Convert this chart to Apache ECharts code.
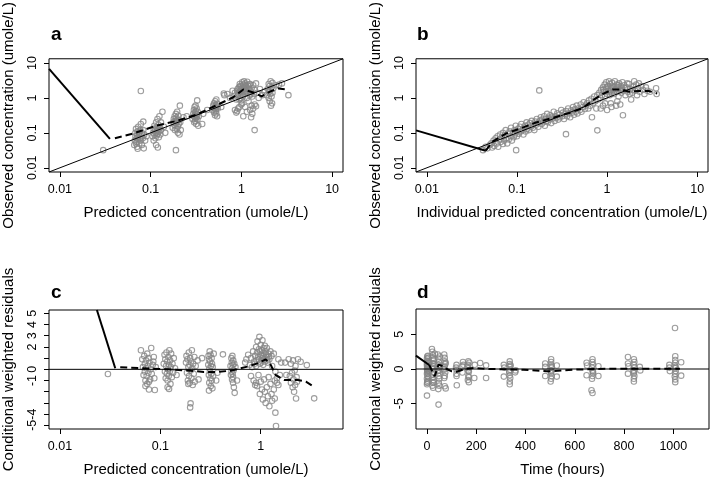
<!DOCTYPE html>
<html>
<head>
<meta charset="UTF-8">
<title>GOF plots</title>
<script src="https://cdn.jsdelivr.net/npm/echarts@6/dist/echarts.min.js"></script>
<style>
  html, body { margin: 0; padding: 0; background: #fff; }
  #app { width: 710px; height: 480px; }
</style>
</head>
<body>
<div id="app"></div>
<script>
// ---- data (concentrations in umole/L, time in hours) ----
var logTicks = [0.01, 0.1, 1, 10];

// panel a: predicted vs observed
var aPts = [
  [0.030,0.032],[0.078,1.58],
  [0.066,0.045],[0.067,0.06],[0.068,0.08],[0.068,0.1],[0.069,0.13],[0.07,0.07],[0.07,0.055],[0.071,0.04],[0.071,0.09],[0.072,0.11],
  [0.072,0.075],[0.073,0.065],[0.073,0.15],[0.074,0.085],[0.075,0.05],[0.075,0.095],[0.076,0.07],[0.077,0.12],[0.078,0.06],[0.078,0.18],
  [0.079,0.08],[0.08,0.045],[0.08,0.1],[0.082,0.07],[0.084,0.036],[0.085,0.09],[0.087,0.06],[0.09,0.08],[0.072,0.035],[0.069,0.05],[0.083,0.12],[0.083,0.21],
  [0.105,0.08],[0.107,0.1],[0.108,0.13],[0.11,0.09],[0.11,0.16],[0.112,0.12],[0.113,0.07],[0.114,0.1],[0.115,0.2],[0.116,0.14],[0.117,0.085],
  [0.118,0.11],[0.119,0.25],[0.12,0.095],[0.12,0.13],[0.122,0.17],[0.123,0.075],[0.124,0.11],[0.125,0.3],[0.127,0.14],[0.128,0.09],[0.13,0.12],
  [0.115,0.045],[0.12,0.038],[0.135,0.4],[0.14,0.15],[0.145,0.1],[0.108,0.06],[0.13,0.2],
  [0.175,0.14],[0.178,0.2],[0.18,0.25],[0.182,0.17],[0.184,0.3],[0.185,0.12],[0.187,0.22],[0.188,0.16],[0.19,0.35],[0.19,0.19],[0.192,0.27],
  [0.194,0.13],[0.195,0.21],[0.196,0.4],[0.198,0.24],[0.2,0.15],[0.2,0.1],[0.202,0.31],[0.204,0.18],[0.206,0.23],[0.208,0.09],[0.21,0.6],
  [0.212,0.2],[0.215,0.12],[0.19,0.032],[0.23,0.28],[0.25,0.3],
  [0.29,0.25],[0.295,0.35],[0.3,0.3],[0.3,0.45],[0.302,0.2],[0.305,0.55],[0.307,0.28],[0.308,0.38],[0.31,0.22],[0.312,0.32],[0.313,0.6],
  [0.315,0.26],[0.316,0.42],[0.318,0.18],[0.32,0.34],[0.322,0.5],[0.324,0.29],[0.326,0.85],[0.328,0.24],[0.33,0.4],[0.335,0.16],[0.34,0.3],
  [0.37,0.18],[0.38,0.35],[0.42,0.45],
  [0.48,0.45],[0.49,0.6],[0.5,0.38],[0.5,0.7],[0.505,0.5],[0.51,0.55],[0.512,0.32],[0.515,0.8],[0.52,0.42],[0.522,0.62],[0.525,0.48],
  [0.528,0.36],[0.53,0.9],[0.535,0.55],[0.54,0.3],[0.545,0.68],[0.55,0.5],[0.65,1.2],[0.6,0.55],[0.64,1.34],
  [0.82,1.1],[0.85,1.4],[0.88,0.9],[0.9,1.6],[0.92,1.2],[0.94,2.0],[0.95,1.5],[0.96,2.5],[0.97,1.0],[0.98,1.8],[1.0,2.2],[1.0,1.3],
  [1.02,2.8],[1.03,1.7],[1.04,1.1],[1.05,2.4],[1.06,1.5],[1.07,3.0],[1.08,1.9],[1.1,1.3],[1.1,2.6],[1.12,1.6],[1.13,2.1],[1.15,1.0],
  [1.16,2.9],[1.18,1.4],[1.2,2.2],[1.22,1.7],[1.24,1.2],[1.25,2.5],[1.28,1.5],[1.3,1.9],[1.32,1.1],[1.35,2.3],[1.38,1.3],[1.4,1.7],
  [1.45,2.6],[1.5,1.4],[1.55,1.0],[0.95,0.9],[1.0,0.85],[0.7,1.3],[0.75,1.0],[0.8,1.6],
  [0.93,1.35],[0.99,1.55],[1.01,1.9],[1.04,2.05],[1.09,1.75],[1.11,2.35],[1.14,1.45],[1.19,1.85],[1.23,2.4],[1.27,1.3],[0.91,1.8],[0.97,2.2],
  [0.85,0.45],[0.88,0.38],[0.9,0.42],[0.92,0.5],[1.0,0.65],[1.02,0.7],[1.05,0.3],[1.1,0.55],[1.15,0.4],[1.2,0.8],[1.25,0.45],
  [1.3,0.6],[1.32,0.35],[1.35,0.5],[1.4,0.65],[1.4,0.12],[1.28,0.28],[1.45,0.58],[0.95,0.55],
  [1.9,1.2],[1.95,1.8],[2.0,2.5],[2.0,1.0],[2.02,1.5],[2.05,0.8],[2.05,2.2],[2.08,1.3],[2.1,3.0],[2.1,1.7],[2.12,0.6],[2.15,2.0],
  [2.15,1.1],[2.18,0.7],[2.2,1.4],[2.2,2.7],[2.25,1.9],[1.8,1.5],[1.7,1.2],[2.4,2.3],[2.6,2.4],[2.8,2.6],[3.3,1.2],[1.6,1.8]
];
var aSolid = [[0.0076,6.8],[0.0356,0.0676]];
var aDash = [[0.0404,0.0702],[0.0643,0.0957],[0.1164,0.1614],[0.1936,0.2203],[0.3214,0.3327],[0.5346,0.6194],[0.8147,1.045],
  [1.05,1.75],[1.352,1.426],[1.675,1.112],[2.065,1.517],[2.553,1.862],[3.16,1.75]];

// panel b: individual predicted vs observed
var bPts = [
  [0.042,0.032],[0.045,0.04],[0.047,0.036],[0.05,0.045],[0.052,0.05],[0.053,0.038],[0.055,0.06],[0.056,0.042],[0.058,0.07],[0.06,0.05],
  [0.061,0.08],[0.062,0.04],[0.064,0.065],[0.065,0.09],[0.066,0.055],[0.068,0.075],[0.07,0.1],[0.07,0.048],[0.072,0.06],[0.073,0.085],
  [0.075,0.12],[0.076,0.07],[0.078,0.05],[0.08,0.095],[0.081,0.065],[0.083,0.11],[0.085,0.08],[0.086,0.14],[0.088,0.06],[0.09,0.1],
  [0.092,0.075],[0.094,0.12],[0.095,0.09],[0.097,0.16],[0.098,0.032],[0.1,0.11],[0.1,0.08],
  [0.103,0.13],[0.105,0.095],[0.108,0.15],[0.11,0.11],[0.112,0.18],[0.115,0.12],[0.118,0.09],[0.12,0.14],[0.123,0.16],[0.125,0.11],
  [0.128,0.2],[0.13,0.13],[0.133,0.17],[0.136,0.12],[0.14,0.19],[0.143,0.15],[0.146,0.22],[0.15,0.14],[0.153,0.18],[0.156,0.12],
  [0.16,0.21],[0.163,0.17],[0.166,0.25],[0.17,0.19],[0.173,0.15],[0.177,1.64],[0.18,0.22],[0.184,0.28],[0.188,0.18],[0.19,0.24],
  [0.195,0.2],[0.2,0.3],[0.204,0.16],[0.208,0.25],[0.212,0.22],[0.216,0.35],[0.22,0.2],[0.225,0.27],[0.23,0.24],[0.235,0.32],
  [0.24,0.19],[0.245,0.29],[0.25,0.26],[0.256,0.4],[0.262,0.22],[0.268,0.3],[0.275,0.27],[0.28,0.36],[0.288,0.24],[0.295,0.33],
  [0.3,0.28],[0.31,0.45],[0.318,0.3],[0.325,0.38],[0.333,0.25],[0.34,0.34],[0.35,0.092],[0.35,0.42],[0.36,0.3],[0.37,0.5],[0.38,0.36],
  [0.39,0.28],[0.4,0.44],[0.41,0.38],[0.42,0.55],[0.43,0.33],[0.44,0.47],[0.45,0.4],[0.46,0.6],[0.47,0.36],[0.48,0.5],[0.5,0.45],
  [0.51,0.65],[0.52,0.4],[0.54,0.55],[0.55,0.75],[0.57,0.48],[0.58,0.6],[0.6,0.7],[0.62,0.5],[0.63,0.85],[0.65,0.6],[0.67,0.95],
  [0.68,0.28],[0.7,0.7],[0.72,1.1],[0.74,0.8],[0.76,0.5],[0.78,0.118],[0.78,1.2],[0.8,0.9],
  [0.82,1.4],[0.84,1.0],[0.86,1.7],[0.88,1.2],[0.9,2.0],[0.9,0.6],[0.92,1.5],[0.94,2.4],[0.95,1.1],[0.97,1.8],[0.98,2.8],[1.0,1.3],
  [1.0,0.45],[1.02,2.2],[1.04,1.6],[1.05,3.0],[1.07,1.2],[1.08,2.5],[1.1,1.9],[1.12,0.55],[1.12,1.4],[1.14,2.7],[1.16,1.7],[1.18,2.1],
  [1.2,1.3],[1.22,3.0],[1.24,1.8],[1.26,0.6],[1.28,2.4],[1.3,1.5],[1.32,2.0],[1.34,1.1],[1.36,2.6],[1.38,1.7],[1.4,0.65],[1.42,2.2],
  [1.44,1.4],[1.46,1.9],[1.48,2.8],[1.5,0.32],[1.5,1.6],[1.55,2.3],[1.6,1.2],[1.65,2.0],[1.7,1.5],[1.75,2.5],[1.8,1.8],[1.85,0.9],
  [1.9,1.4],[1.95,2.1],[2.0,3.0],[2.05,1.6],[2.1,2.4],[2.15,1.2],[2.2,1.9],[2.3,1.5],[2.4,2.2],[2.5,1.7],[2.6,1.3],[2.7,2.0],
  [2.8,1.6],[3.0,1.5],[3.5,1.9],[3.55,1.3],[1.1,0.7],[0.95,0.7],[1.3,0.8],[0.85,0.5],
  [1.13,2.1],[1.21,1.6],[1.33,2.3],[1.43,1.7],[1.58,1.9],[1.68,2.6],[1.78,1.3],[1.92,1.7],[2.25,2.6],[0.99,2.0],[0.91,1.7],[1.06,1.5]
];
var bSolid = [[0.0076,0.118],[0.045,0.0306]];
var bDash = [[0.045,0.031],[0.054,0.057],[0.076,0.096],[0.107,0.131],[0.163,0.198],[0.249,0.27],[0.38,0.37],[0.534,0.505],
  [0.69,0.85],[0.89,1.28],[1.15,1.75],[1.42,1.75],[1.75,1.51],[2.26,1.58],[2.91,1.58],[3.6,1.34]];

// panel c: predicted vs CWRES
var cPts = [
  [0.03,-0.42],
  [0.064,1.7],[0.066,0.9],[0.067,0.2],[0.068,-0.5],[0.069,1.2],[0.07,0.5],[0.07,-0.2],[0.071,-1.0],[0.072,0.8],[0.072,0.1],[0.073,-0.6],
  [0.074,1.4],[0.074,-1.3],[0.075,0.3],[0.076,-0.3],[0.076,1.0],[0.077,-1.8],[0.078,0.6],[0.079,-0.9],[0.08,0.0],[0.081,1.9],[0.082,-0.4],
  [0.084,0.4],[0.086,1.1],[0.087,-0.8],[0.088,-1.85],[0.09,0.2],[0.085,0.7],[0.071,-1.5],[0.077,-1.1],
  [0.108,0.5],[0.11,1.3],[0.111,-0.2],[0.112,0.9],[0.113,-0.8],[0.114,0.3],[0.115,1.5],[0.116,-0.4],[0.117,0.7],[0.118,-1.0],[0.119,0.0],
  [0.12,1.1],[0.121,-0.6],[0.122,0.4],[0.123,1.7],[0.124,-0.2],[0.125,0.8],[0.126,-1.3],[0.127,0.2],[0.128,1.4],[0.13,-0.7],[0.132,0.5],
  [0.134,-0.3],[0.136,1.0],[0.14,0.1],[0.118,-1.6],[0.122,-1.75],[0.145,-0.5],
  [0.18,0.6],[0.182,1.2],[0.184,-0.3],[0.186,0.9],[0.188,-1.0],[0.19,0.2],[0.192,1.5],[0.193,-0.6],[0.195,0.4],[0.196,-1.2],[0.198,1.0],
  [0.2,-0.1],[0.202,0.7],[0.204,-0.8],[0.206,1.7],[0.208,0.1],[0.21,-1.4],[0.212,0.5],[0.215,-0.4],[0.218,1.1],[0.22,-1.1],[0.225,0.3],
  [0.235,0.8],[0.24,-0.9],[0.2,-3.04],[0.198,-3.4],[0.26,1.0],[0.19,-1.3],
  [0.3,0.4],[0.302,1.2],[0.304,-0.5],[0.305,0.9],[0.307,-1.2],[0.308,0.1],[0.31,1.6],[0.312,-0.2],[0.313,0.7],[0.315,-0.8],[0.316,1.3],
  [0.318,-1.5],[0.32,0.3],[0.322,-0.4],[0.324,1.0],[0.325,-1.0],[0.327,0.5],[0.33,-1.7],[0.332,0.2],[0.335,-0.6],[0.34,1.4],[0.36,-1.0],
  [0.37,-0.3],[0.42,1.34],[0.305,-1.9],
  [0.5,0.3],[0.505,-0.5],[0.51,1.0],[0.512,-0.2],[0.515,0.6],[0.518,-0.9],[0.52,0.1],[0.522,1.2],[0.525,-0.4],[0.528,0.4],[0.53,-1.2],
  [0.532,0.8],[0.535,-0.1],[0.54,-1.6],[0.545,0.5],[0.55,-2.1],[0.56,0.2],[0.58,-1.0],[0.53,-0.7],
  [0.7,0.6],[0.72,0.9],[0.75,1.3],[0.78,0.4],[0.8,1.0],[0.82,0.2],[0.84,1.6],[0.86,0.7],[0.88,1.2],[0.9,2.0],[0.9,0.3],[0.92,1.5],
  [0.93,2.5],[0.95,0.9],[0.96,1.8],[0.97,2.9],[0.98,0.5],[1.0,1.3],[1.0,2.2],[1.02,0.8],[1.03,1.7],[1.04,2.6],[1.05,1.0],[1.06,0.4],
  [1.07,1.9],[1.08,1.4],[1.1,2.1],[1.1,0.7],[1.12,1.6],[1.14,1.1],[1.15,1.9],[1.17,0.6],[1.19,1.4],[1.22,0.9],[1.25,1.6],[1.28,1.2],[1.3,0.3],
  [0.94,1.1],[0.99,1.6],[1.01,0.6],[1.04,1.2],[1.09,0.9],[1.13,1.3],[1.16,0.8],[1.2,1.1],[0.87,0.5],[0.91,0.8],
  [0.8,-0.6],[0.85,-1.0],[0.88,-1.4],[0.9,-1.2],[0.92,-1.5],[0.95,-0.5],[0.98,-2.2],[1.0,-1.1],[1.03,-1.8],[1.05,-2.7],[1.08,-0.9],
  [1.1,-2.0],[1.12,-3.0],[1.15,-1.6],[1.18,-2.4],[1.2,-0.7],[1.22,-3.3],[1.25,-1.3],[1.28,-2.2],[1.3,-2.8],[1.35,-1.8],[1.38,-2.6],
  [1.4,-3.87],[1.42,-5.06],[1.38,-1.0],[1.35,1.4],[1.4,-0.2],[1.45,-0.8],[1.5,0.9],[1.55,-0.5],[1.6,0.6],[1.45,-1.2],[1.5,-1.4],
  [1.9,0.9],[1.95,-0.6],[2.0,0.5],[2.0,-1.2],[2.05,-0.3],[2.08,-1.6],[2.1,0.8],[2.12,-0.9],[2.15,-2.0],[2.18,-0.1],[2.2,-1.4],[2.22,0.3],
  [2.25,-2.6],[2.28,-0.7],[2.3,-1.1],[2.35,0.9],[1.8,-0.5],[1.75,0.6],[2.5,0.68],[2.88,0.38],[3.41,-2.59]
];
var cSolid = [[0.0233,5.3],[0.0355,0.09]];
var cDash = [[0.0398,0.18],[0.068,0.09],[0.117,0.0],[0.2,-0.12],[0.271,-0.24],[0.369,-0.24],[0.5,-0.12],[0.736,0.24],[0.926,0.53],
  [1.12,0.89],[1.26,0.39],[1.41,-0.51],[1.71,-0.95],[2.33,-0.95],[2.82,-1.1],[3.29,-1.49]];

// panel d: time vs CWRES
var dPts = [
  [0,-3.84],[0,-2.2],[1,-1.9],[0,-1.4],[2,-1.0],[0,-0.7],[1,-0.4],[3,-0.2],[0,0.0],[2,0.2],[4,0.4],[1,0.6],[0,0.8],[3,1.0],[2,1.2],
  [0,1.5],[1,1.8],[4,-0.6],[6,0.3],[6,-1.2],[8,0.9],[8,-0.3],[5,1.6],[3,-1.7],[0,0.5],[2,-0.1],[4,1.9],[1,-2.0],
  [20,2.89],[22,2.5],[24,2.0],[24,1.6],[26,1.2],[23,0.8],[25,0.4],[24,0.0],[26,-0.4],[22,-0.8],[24,-1.2],[26,-1.6],[24,-2.0],[22,-2.4],
  [25,-2.7],[28,1.4],[30,-0.6],[20,0.2],[28,-1.9],[30,0.7],[32,2.2],
  [44,2.1],[46,1.5],[48,1.0],[47,0.6],[48,0.2],[50,-0.2],[46,-0.6],[48,-1.0],[50,-1.4],[48,-2.0],[46,-2.9],[47,-5.14],[52,1.8],[52,0.4],
  [44,-0.3],[50,-2.4],
  [70,2.1],[72,1.6],[72,1.1],[74,0.7],[72,0.3],[70,-0.1],[74,-0.5],[72,-1.0],[70,-1.3],[72,-2.5],[76,-2.8],[76,0.9],[68,0.0],
  [120,0.6],[120,-0.1],[120,-0.7],[120,-1.0],[121,-2.35],[118,0.2],
  [144,0.4],[146,1.0],[144,-0.5],[148,0.6],[168,1.1],[166,0.6],[168,0.1],[170,-0.4],[168,-1.0],[166,-1.6],[170,-1.9],[172,0.9],
  [164,0.3],[168,-0.2],[170,-1.2],
  [192,-1.29],[216,0.87],[240,0.53],[240,-1.29],[194,0.6],
  [312,0.6],[312,-1.1],[314,0.2],[336,1.1],[336,0.7],[336,0.3],[338,-0.1],[334,-0.5],[336,-0.9],[338,-1.3],[336,-1.8],[336,-2.2],
  [340,0.5],[358,-0.48],[360,-0.2],[334,-0.3],
  [480,0.8],[480,-1.0],[480,0.3],[504,1.4],[504,1.0],[504,0.6],[506,0.2],[502,-0.2],[504,-0.6],[506,-1.0],[504,-1.4],[502,-1.8],
  [506,0.4],[527,0.5],[527,-1.1],[504,-0.4],
  [648,0.9],[650,0.5],[648,-0.9],[672,1.4],[672,1.0],[674,0.6],[670,0.2],[672,-0.2],[674,-0.6],[672,-1.0],[670,-1.4],[668,-3.07],
  [672,-3.46],[696,0.4],[696,-1.0],[674,-0.4],
  [816,1.74],[816,0.8],[816,-0.67],[818,0.4],[840,1.4],[842,1.0],[840,0.6],[842,0.2],[838,-0.2],[840,-0.6],[842,-1.0],[840,-1.4],
  [840,-1.8],[864,0.3],[866,-0.2],[840,-0.4],
  [984,0.6],[984,0.2],[986,-0.3],[1007,5.92],[1008,1.83],[1008,1.3],[1008,0.9],[1006,0.5],[1008,0.1],[1010,-0.3],[1008,-0.7],
  [1006,-1.1],[1008,-1.5],[1008,-1.9],[1032,0.97],[1032,-0.96],[1010,0.3]
];
var dSolid = [[-45,1.93],[9,0.58]];
var dDash = [[9,0.58],[31,-1.05],[47,0.63],[67,0.38],[80,0.0],[101,-0.34],[120,-0.4],[155,0],[189,0.14],[257,0],[392,-0.1],
  [487,-0.34],[595,-0.1],[730,0.05],[865,0.05],[1027,0.05]];

var cTicks = [-5,-4,-3,-2,-1,0,1,2,3,4,5];
var cLabels = [5,4,3,2,0,-1,-4,-5];
var dXTicks = [0,200,400,600,800,1000];
var dYTicks = [-5,0,5];

// ---- helpers ----
var FONT = 'Liberation Sans';
var lg = function (v) { return Math.log10(v); };
function logXY(pts) { return pts.map(function (p) { return [lg(p[0]), lg(p[1])]; }); }
function logX(pts) { return pts.map(function (p) { return [lg(p[0]), p[1]]; }); }
function logFmt(v) {
    var i = logTicks.map(lg).findIndex(function (t) { return Math.abs(t - v) < 1e-6; });
    return i >= 0 ? String(logTicks[i]) : '';
}
function plainFmt(v) { return String(v); }

var LMIN = -2.12, LMAX = 1.12;
var grey = '#858585';

function xAx(grid, min, max, ticks, fmt, name) {
    return {
        gridIndex: grid, type: 'value', min: min, max: max,
        name: name, nameLocation: 'middle', nameGap: 33,
        nameTextStyle: { fontFamily: FONT, fontSize: 15, color: '#000' },
        axisLine: { show: false, onZero: false },
        axisTick: { show: true, length: 5, inside: false, customValues: ticks, lineStyle: { color: '#000' } },
        axisLabel: { customValues: ticks, formatter: fmt, margin: 11, fontFamily: FONT, fontSize: 12.5, color: '#000' },
        splitLine: { show: false }
    };
}
function yAx(grid, min, max, ticks, labels, fmt, name) {
    return {
        gridIndex: grid, type: 'value', min: min, max: max,
        name: name, nameLocation: 'middle', nameGap: 33, nameRotate: 90,
        nameTextStyle: { fontFamily: FONT, fontSize: 15, color: '#000' },
        axisLine: { show: false, onZero: false },
        axisTick: { show: true, length: 5, inside: false, customValues: ticks, lineStyle: { color: '#000' } },
        axisLabel: { customValues: labels, formatter: fmt, rotate: 90, margin: 10, fontFamily: FONT, fontSize: 12.5, color: '#000' },
        splitLine: { show: false }
    };
}
function pts(i, data) {
    return {
        type: 'scatter', xAxisIndex: i, yAxisIndex: i, data: data, symbol: 'circle', symbolSize: 5.5,
        itemStyle: { color: 'rgba(0,0,0,0)', borderColor: grey, borderWidth: 1.1 }, silent: true
    };
}
function line(i, data, w, dash) {
    return {
        type: 'line', xAxisIndex: i, yAxisIndex: i, data: data, symbol: 'none', silent: true,
        lineStyle: { color: '#000', width: w, type: dash ? [7, 4] : 'solid' }, z: 3
    };
}
function zeroLine(i, xmin, xmax) {
    return line(i, [[xmin, 0], [xmax, 0]], 1, false);
}

var myChart = echarts.init(document.getElementById('app'));
var logTickVals = logTicks.map(lg);

var option = {
    animation: false,
    backgroundColor: '#fff',
    title: [
        { text: 'a', left: 51, top: 25 },
        { text: 'b', left: 417, top: 25 },
        { text: 'c', left: 51, top: 283 },
        { text: 'd', left: 417, top: 283 }
    ].map(function (t) {
        t.padding = 0;
        t.textStyle = { fontFamily: FONT, fontSize: 19, fontWeight: 'bold', color: '#000' };
        return t;
    }),
    grid: [
        { left: 49, top: 52, width: 294, height: 120 },
        { left: 416, top: 52, width: 292, height: 120 },
        { left: 49, top: 310, width: 294, height: 119 },
        { left: 416, top: 309, width: 293, height: 120 }
    ].map(function (g) {
        g.show = true; g.borderColor = '#000'; g.borderWidth = 1; g.containLabel = false;
        return g;
    }),
    xAxis: [
        xAx(0, LMIN, LMAX, logTickVals, logFmt, 'Predicted concentration (umole/L)'),
        xAx(1, LMIN, LMAX, logTickVals, logFmt, 'Individual predicted concentration (umole/L)'),
        xAx(2, -2.11, 0.82, logTickVals.slice(0, 3), logFmt, 'Predicted concentration (umole/L)'),
        xAx(3, -44.6, 1145, dXTicks, plainFmt, 'Time (hours)')
    ],
    yAxis: [
        yAx(0, LMIN, LMAX, logTickVals, logTickVals, logFmt, 'Observed concentration (umole/L)'),
        yAx(1, LMIN, LMAX, logTickVals, logTickVals, logFmt, 'Observed concentration (umole/L)'),
        yAx(2, -5.33, 5.3, cTicks, cLabels, plainFmt, 'Conditional weighted residuals'),
        yAx(3, -8.66, 8.66, dYTicks, dYTicks, plainFmt, 'Conditional weighted residuals')
    ],
    series: [
        line(0, [[LMIN, LMIN], [LMAX, LMAX]], 1, false),
        pts(0, logXY(aPts)),
        line(0, logXY(aSolid), 2, false),
        line(0, logXY(aDash), 2, true),

        line(1, [[LMIN, LMIN], [LMAX, LMAX]], 1, false),
        pts(1, logXY(bPts)),
        line(1, logXY(bSolid), 2, false),
        line(1, logXY(bDash), 2, true),

        zeroLine(2, -2.11, 0.82),
        pts(2, logX(cPts)),
        line(2, logX(cSolid), 2, false),
        line(2, logX(cDash), 2, true),

        zeroLine(3, -44.6, 1145),
        pts(3, dPts),
        line(3, dSolid, 2, false),
        line(3, dDash, 2, true)
    ]
};
myChart.setOption(option);
</script>
</body>
</html>
